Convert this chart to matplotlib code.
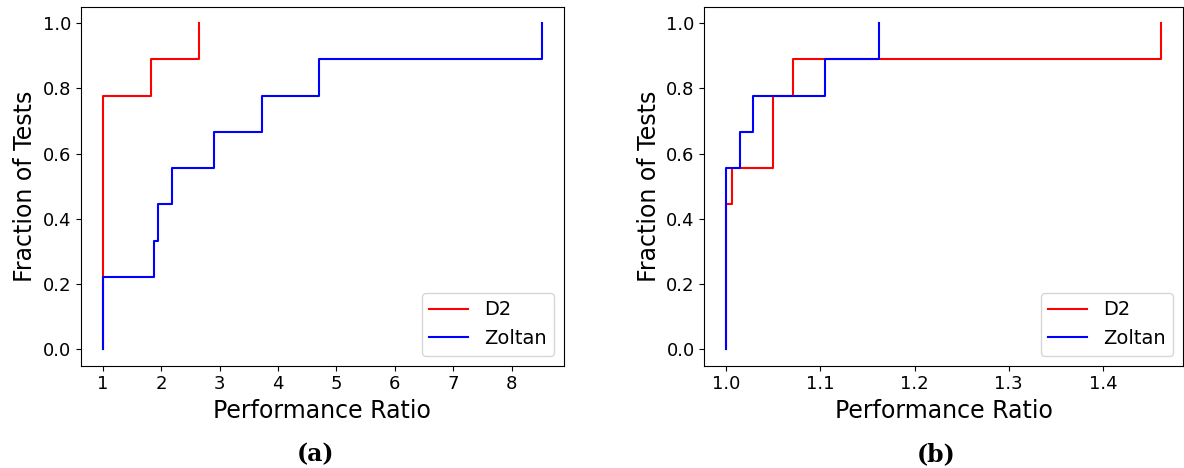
import numpy as np
import matplotlib
matplotlib.use("Agg")
import matplotlib.pyplot as plt

# performance ratios per test (9 tests each)
d2_a = [1.0, 1.0, 1.0, 1.0, 1.0, 1.0, 1.0, 1.82, 2.64]
zoltan_a = [1.0, 1.0, 1.87, 1.94, 2.18, 2.90, 3.73, 4.71, 8.52]

d2_b = [1.0, 1.0, 1.0, 1.0, 1.006, 1.050, 1.050, 1.071, 1.462]
zoltan_b = [1.0, 1.0, 1.0, 1.0, 1.0, 1.015, 1.029, 1.105, 1.162]

series_labels = ["D2", "Zoltan"]
series_colors = ["red", "blue"]
panel_labels = ["(a)", "(b)"]
xticks_a = [1, 2, 3, 4, 5, 6, 7, 8]


def profile(ratios):
    r = np.sort(np.asarray(ratios, dtype=float))
    frac = np.arange(1, len(r) + 1) / len(r)
    return np.concatenate([[r[0]], r]), np.concatenate([[0.0], frac])


fig = plt.figure(figsize=(11.84, 4.68), dpi=100)
ax_a = fig.add_axes([0.0682, 0.2186, 0.4082, 0.767])
ax_b = fig.add_axes([0.5949, 0.2186, 0.4043, 0.767])

for ax, data, tag in [(ax_a, (d2_a, zoltan_a), panel_labels[0]),
                      (ax_b, (d2_b, zoltan_b), panel_labels[1])]:
    for ratios, name, col in zip(data, series_labels, series_colors):
        x, y = profile(ratios)
        ax.step(x, y, where='post', color=col, lw=1.5, label=name)
    ax.set_xlabel("Performance Ratio", fontsize=17)
    ax.set_ylabel("Fraction of Tests", fontsize=17)
    ax.tick_params(labelsize=13)
    ax.legend(loc='lower right', fontsize=14)
    pos = ax.get_position()
    fig.text(pos.x0 + pos.width / 2 - 0.006, 0.03, tag,
             ha='center', va='center', fontsize=17,
             family='DejaVu Serif', fontweight='bold')

ax_a.set_xticks(xticks_a)

fig.savefig("out.png", dpi=100)
